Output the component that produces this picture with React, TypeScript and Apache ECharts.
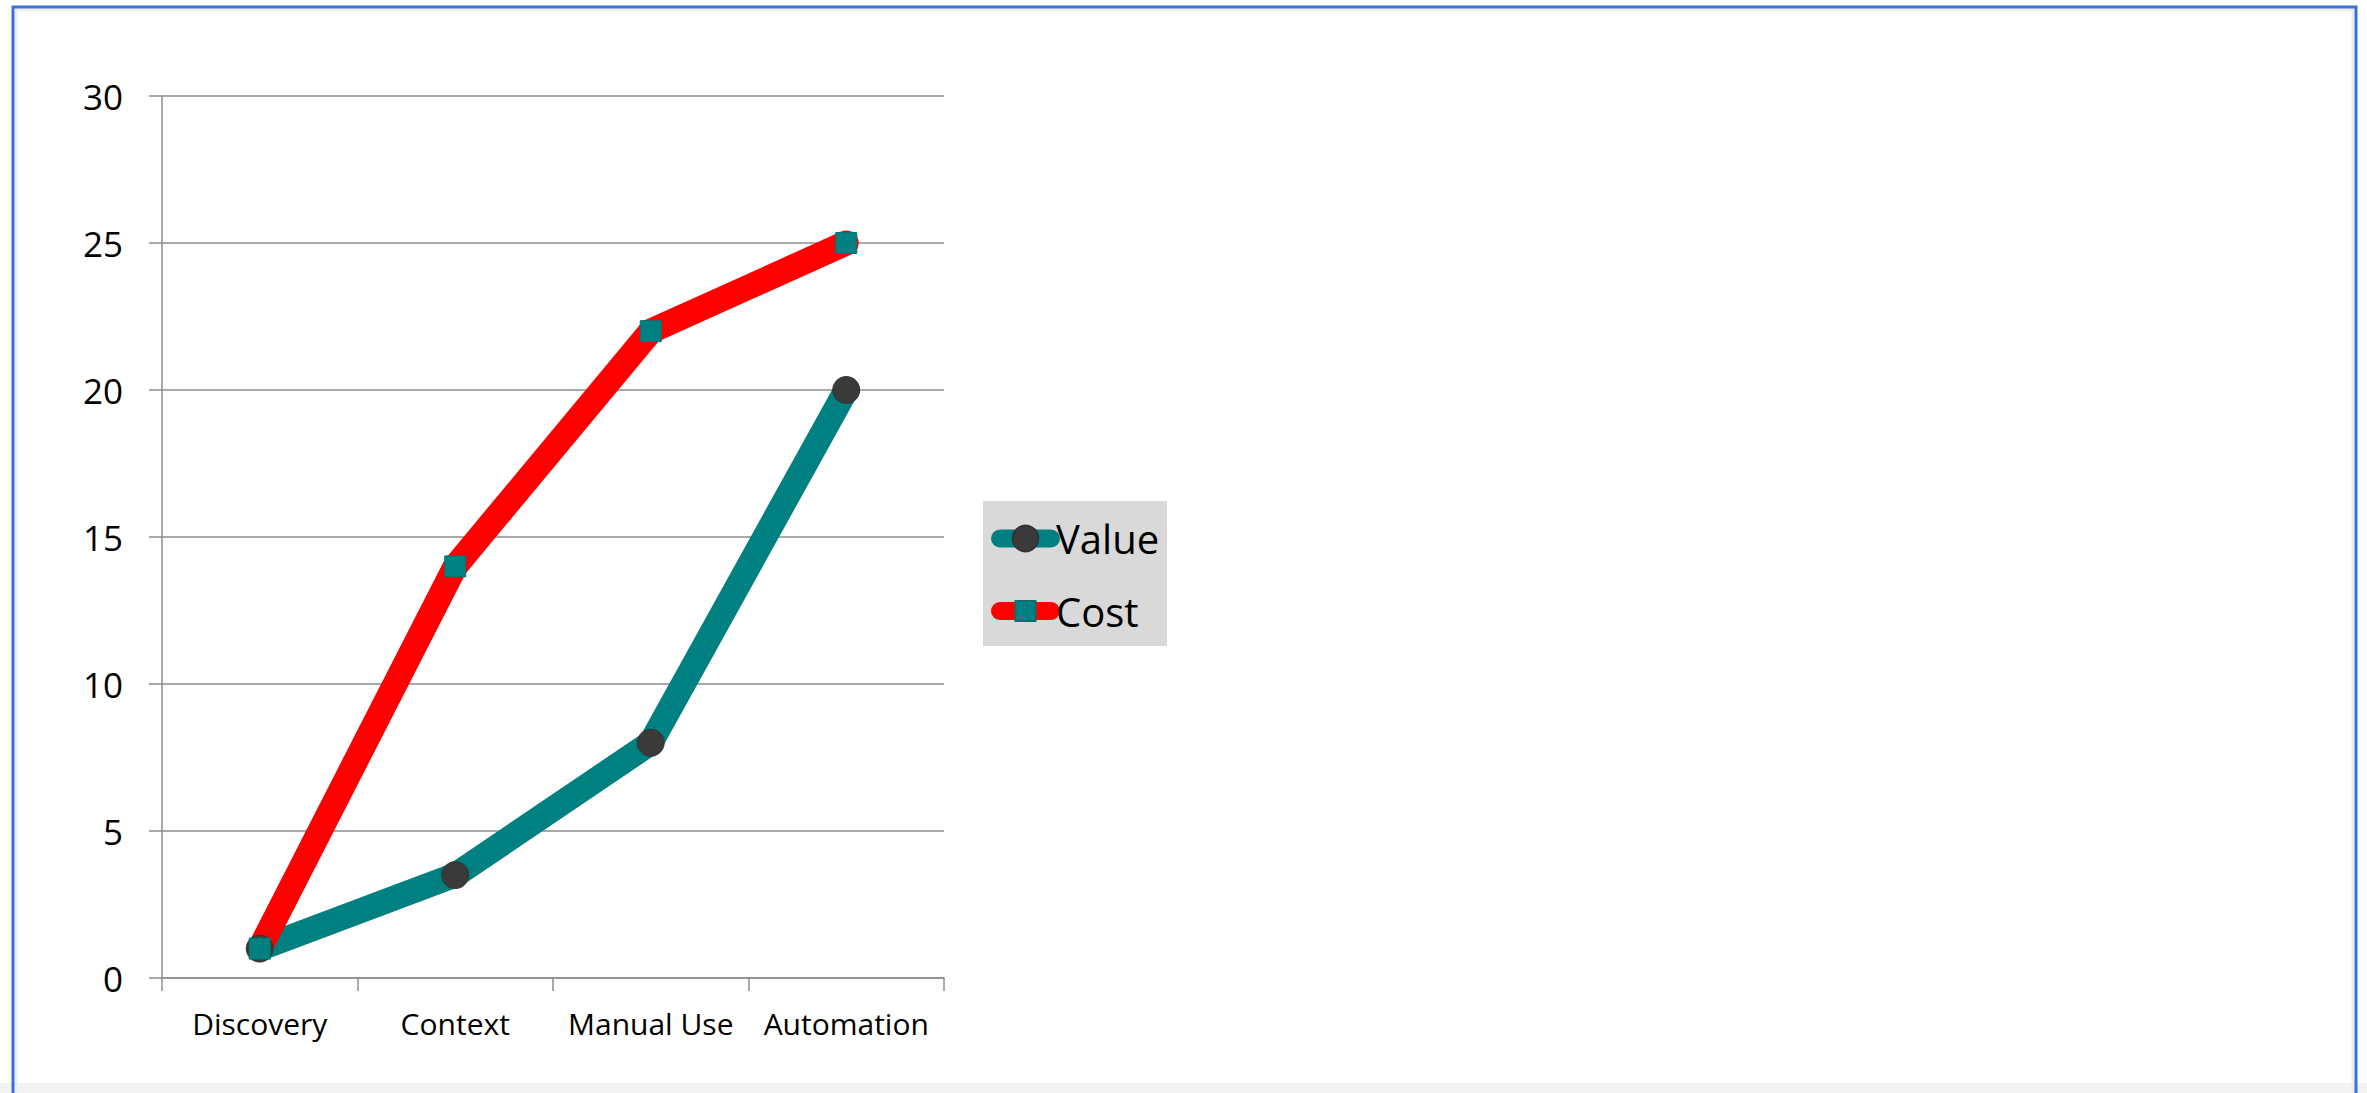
import React, { useEffect, useRef } from "react";
import * as echarts from "echarts";

// Stages along the adoption path
const categories = ["Discovery", "Context", "Manual Use", "Automation"];
// Series values per stage
const valueSeries = [1, 3.5, 8, 20];
const costSeries = [1, 14, 22, 25];
// Value axis
const yMin = 0;
const yMax = 30;
const yStep = 5;

const FONT = "Open Sans";
const GRID_GRAY = "#8c8c8c";

export default function App() {
  const ref = useRef<HTMLDivElement>(null);

  useEffect(() => {
    if (!ref.current) return;
    const chart = echarts.init(ref.current, null, { renderer: "svg" });

    chart.setOption({
      animation: false,
      backgroundColor: "#ffffff",
      textStyle: { fontFamily: FONT, color: "#000" },
      graphic: [
        // frame
        {
          type: "rect",
          z: 0,
          silent: true,
          shape: { x: 0, y: 1083, width: 2367, height: 10 },
          style: { fill: "#f2f2f2" },
        },
        {
          type: "rect",
          z: 0,
          silent: true,
          shape: { x: 16, y: 10, width: 2337, height: 1200 },
          style: { fill: "none", stroke: "#ededed", lineWidth: 3 },
        },
        {
          type: "rect",
          z: 1,
          silent: true,
          shape: { x: 13, y: 7, width: 2343, height: 1200 },
          style: { fill: "none", stroke: "#3d6fd9", lineWidth: 3 },
        },
        // legend panel
        {
          type: "rect",
          z: 1,
          silent: true,
          shape: { x: 983, y: 501, width: 184, height: 145 },
          style: { fill: "#d9d9d9" },
        },
      ],
      grid: {
        left: 162,
        top: 96,
        right: 2367 - 944,
        bottom: 1093 - 978,
        containLabel: false,
      },
      legend: [
        {
          data: ["Value"],
          left: 991,
          top: 518.5,
          padding: 0,
          orient: "vertical",
          itemWidth: 51,
          itemHeight: 32,
          z: 5,
          textStyle: { fontFamily: FONT, fontSize: 40, color: "#000" },
          lineStyle: { width: 18, cap: "round" },
          selectedMode: false,
        },
        {
          data: ["Cost"],
          left: 991,
          top: 591,
          padding: 0,
          orient: "vertical",
          itemWidth: 51,
          itemHeight: 25,
          z: 5,
          textStyle: { fontFamily: FONT, fontSize: 40, color: "#000" },
          lineStyle: { width: 18, cap: "round" },
          selectedMode: false,
        },
      ],
      xAxis: {
        type: "category",
        data: categories,
        boundaryGap: true,
        axisLine: { show: true, lineStyle: { color: GRID_GRAY, width: 1.5 } },
        axisTick: {
          show: true,
          interval: 0,
          length: 13,
          alignWithLabel: false,
          lineStyle: { color: GRID_GRAY, width: 1.5 },
        },
        axisLabel: {
          interval: 0,
          margin: 30,
          fontFamily: FONT,
          fontSize: 30,
          color: "#000",
        },
        splitLine: { show: false },
      },
      yAxis: {
        type: "value",
        min: yMin,
        max: yMax,
        interval: yStep,
        axisLine: { show: true, lineStyle: { color: GRID_GRAY, width: 1.5 } },
        axisTick: {
          show: true,
          length: 13,
          lineStyle: { color: GRID_GRAY, width: 1.5 },
        },
        axisLabel: {
          margin: 39,
          fontFamily: FONT,
          fontSize: 35,
          color: "#000",
        },
        splitLine: { show: true, lineStyle: { color: GRID_GRAY, width: 1.5 } },
      },
      series: [
        {
          name: "Value",
          type: "line",
          data: valueSeries,
          symbol: "circle",
          symbolSize: 27,
          showAllSymbol: true,
          lineStyle: { color: "#008080", width: 25, cap: "round", join: "round" },
          itemStyle: { color: "#3a3a3a", borderColor: "#333333", borderWidth: 1 },
          emphasis: { disabled: true },
        },
        {
          name: "Cost",
          type: "line",
          data: costSeries,
          symbol: "rect",
          symbolSize: 21,
          showAllSymbol: true,
          lineStyle: { color: "#ff0000", width: 25, cap: "round", join: "round" },
          itemStyle: { color: "#008080", borderColor: "#0b6f6f", borderWidth: 1 },
          emphasis: { disabled: true },
        },
      ],
    });

    return () => chart.dispose();
  }, []);

  return (
    <div
      ref={ref}
      style={{ position: "fixed", left: 0, top: 0, width: 2367, height: 1093 }}
    />
  );
}
